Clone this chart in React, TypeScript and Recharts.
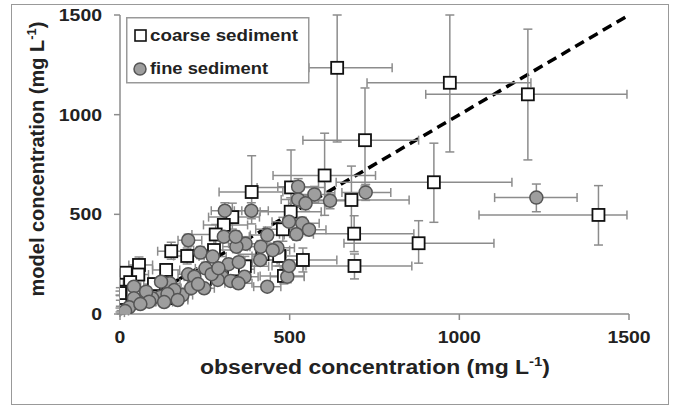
import {
  ScatterChart,
  Scatter,
  XAxis,
  YAxis,
  ErrorBar,
  ReferenceLine,
  Legend,
} from 'recharts';

// [x, y, x- , x+ , y- , y+]  (mg/L)
const coarsePoints = [
  [640, 1235, 83, 162, 372, 265],
  [972, 1160, 244, 239, 347, 340],
  [1202, 1102, 301, 292, 329, 327],
  [722, 872, 183, 158, 230, 262],
  [925, 661, 288, 230, 201, 196],
  [603, 695, 152, 150, 200, 212],
  [1410, 497, 352, 84, 151, 147],
  [682, 572, 130, 170, 170, 170],
  [690, 403, 190, 176, 90, 90],
  [880, 355, 220, 222, 100, 113],
  [691, 241, 150, 169, 65, 60],
  [388, 612, 96, 92, 160, 182],
  [504, 635, 100, 100, 180, 188],
  [539, 271, 110, 100, 60, 60],
  [503, 513, 90, 90, 70, 70],
  [480, 425, 80, 90, 60, 60],
  [331, 486, 70, 80, 60, 70],
  [306, 447, 60, 70, 50, 60],
  [282, 399, 70, 60, 60, 50],
  [277, 321, 60, 70, 40, 50],
  [336, 224, 60, 60, 40, 40],
  [368, 239, 60, 70, 40, 50],
  [469, 291, 80, 70, 50, 50],
  [483, 191, 70, 60, 40, 40],
  [151, 315, 40, 50, 40, 45],
  [198, 291, 40, 50, 40, 40],
  [136, 221, 40, 40, 30, 30],
  [56, 246, 30, 40, 40, 40],
  [17, 207, 17, 30, 30, 30],
  [54, 198, 30, 30, 30, 30],
  [100, 150, 30, 30, 30, 30],
  [250, 175, 50, 50, 30, 30],
  [420, 300, 70, 70, 50, 50],
  [160, 80, 40, 40, 20, 20],
  [30, 160, 20, 20, 20, 20],
  [1, 112, 1, 20, 20, 20],
  [1, 54, 1, 15, 15, 15],
  [3, 7, 3, 10, 7, 10],
  [0, 105, 0, 10, 10, 10],
  [0, 20, 0, 10, 10, 10],
];

const finePoints = [
  [1227, 584, 123, 120, 71, 68],
  [724, 610, 70, 74, 40, 40],
  [619, 568, 60, 70, 40, 40],
  [573, 600, 60, 60, 40, 40],
  [525, 639, 60, 60, 40, 40],
  [525, 575, 50, 60, 40, 40],
  [547, 555, 50, 60, 40, 40],
  [498, 463, 50, 50, 30, 30],
  [537, 455, 50, 50, 30, 30],
  [557, 423, 50, 50, 30, 30],
  [434, 396, 50, 50, 40, 40],
  [464, 332, 50, 50, 30, 30],
  [413, 271, 50, 50, 30, 30],
  [370, 353, 50, 50, 30, 30],
  [343, 338, 40, 40, 30, 30],
  [309, 518, 40, 50, 40, 40],
  [387, 518, 50, 50, 40, 40],
  [306, 388, 40, 40, 30, 30],
  [341, 388, 40, 40, 30, 30],
  [367, 187, 40, 40, 20, 20],
  [301, 187, 40, 40, 20, 20],
  [252, 229, 30, 40, 30, 30],
  [248, 129, 30, 30, 20, 20],
  [201, 199, 30, 30, 20, 20],
  [147, 154, 30, 30, 20, 20],
  [184, 95, 30, 30, 15, 15],
  [120, 87, 25, 25, 15, 15],
  [95, 79, 20, 20, 15, 15],
  [41, 137, 15, 20, 20, 20],
  [41, 79, 15, 15, 15, 15],
  [201, 370, 30, 40, 30, 30],
  [237, 308, 30, 40, 30, 30],
  [273, 288, 40, 40, 30, 30],
  [121, 162, 25, 25, 20, 20],
  [77, 112, 20, 20, 15, 15],
  [86, 62, 20, 20, 10, 10],
  [27, 34, 10, 10, 10, 10],
  [219, 187, 30, 30, 20, 20],
  [288, 171, 40, 40, 20, 20],
  [493, 187, 50, 50, 30, 30],
  [498, 241, 50, 50, 30, 30],
  [434, 137, 40, 40, 20, 20],
  [326, 166, 40, 40, 20, 20],
  [349, 154, 40, 40, 20, 20],
  [415, 338, 40, 40, 30, 30],
  [160, 120, 30, 30, 20, 20],
  [140, 100, 30, 30, 20, 20],
  [60, 50, 15, 15, 10, 10],
  [15, 15, 10, 10, 10, 10],
  [130, 60, 25, 25, 15, 15],
  [170, 70, 30, 30, 15, 15],
  [210, 130, 30, 30, 20, 20],
  [230, 150, 30, 30, 20, 20],
  [270, 200, 40, 40, 25, 25],
  [320, 250, 40, 40, 25, 25],
  [290, 230, 40, 40, 25, 25],
  [350, 260, 40, 40, 25, 25],
  [450, 320, 50, 50, 30, 30],
  [520, 400, 50, 50, 30, 30],
];

const axisTicks = [0, 500, 1000, 1500];

const FONT = 'Liberation Sans, Arial, sans-serif';
const GRID_GREY = '#8c8c8c';

const toRows = (pts: number[][]) =>
  pts.map(([x, y, xl, xh, yl, yh]) => ({ x, y, ex: [xl, xh], ey: [yl, yh] }));

const SquareDot = (props: any) => {
  const { cx, cy } = props;
  return <rect x={cx - 6} y={cy - 6} width={12} height={12} fill="#fff" stroke="#111" strokeWidth={1.8} />;
};

const CircleDot = (props: any) => {
  const { cx, cy } = props;
  return <circle cx={cx} cy={cy} r={6.5} fill="#9e9e9e" stroke="#555" strokeWidth={1.5} />;
};

const XTick = (props: any) => {
  const { x, y, payload } = props;
  const s = String(payload.value);
  return (
    <text x={x} y={y + 21} textAnchor="middle" fontSize={17} fontWeight="bold" fill="#222"
      fontFamily={FONT} textLength={s.length * 10.8} lengthAdjust="spacingAndGlyphs">
      {s}
    </text>
  );
};

const YTick = (props: any) => {
  const { x, y, payload } = props;
  const s = String(payload.value);
  return (
    <text x={x - 10} y={y + 6} textAnchor="end" fontSize={17} fontWeight="bold" fill="#222"
      fontFamily={FONT} textLength={s.length * 10.8} lengthAdjust="spacingAndGlyphs">
      {s}
    </text>
  );
};

const XTitle = () => (
  <text x={375} y={374} textAnchor="middle" fontSize={20} fontWeight="bold" fill="#222"
    fontFamily={FONT} textLength={350} lengthAdjust="spacingAndGlyphs">
    observed concentration (mg L<tspan dy={-8} fontSize={13}>-1</tspan><tspan dy={8}>)</tspan>
  </text>
);

const YTitle = () => (
  <text transform="rotate(-90)" x={-159} y={44} textAnchor="middle" fontSize={20} fontWeight="bold"
    fill="#222" fontFamily={FONT}>
    model concentration (mg L<tspan dy={-8} fontSize={13}>-1</tspan><tspan dy={8}>)</tspan>
  </text>
);

const LegendBox = () => (
  <svg width={184} height={67} style={{ display: 'block' }}>
    <rect x={0.75} y={0.75} width={182} height={65} fill="#fff" stroke="#999" strokeWidth={1.5} />
    <rect x={9} y={13} width={11} height={11} fill="#fff" stroke="#111" strokeWidth={1.6} />
    <text x={24} y={24} fontSize={16} fontWeight="bold" fill="#222" fontFamily={FONT}
      textLength={148} lengthAdjust="spacingAndGlyphs">coarse sediment</text>
    <circle cx={14} cy={52} r={6} fill="#9e9e9e" stroke="#555" strokeWidth={1.5} />
    <text x={24} y={57} fontSize={16} fontWeight="bold" fill="#222" fontFamily={FONT}
      textLength={118} lengthAdjust="spacingAndGlyphs">fine sediment</text>
  </svg>
);

export default function App() {
  const coarse = toRows(coarsePoints);
  const fine = toRows(finePoints);

  return (
    <div style={{ position: 'absolute', left: 0, top: 0, width: 674, height: 408, background: '#fff' }}>
      <div style={{ position: 'absolute', left: 11, top: 4, width: 656, height: 399, border: '1.5px solid #999' }} />
      <ScatterChart width={674} height={408} margin={{ top: 15, right: 45, bottom: 64, left: 60 }}>
        <XAxis type="number" dataKey="x" domain={[0, 1500]} ticks={axisTicks} height={30}
          axisLine={{ stroke: GRID_GREY, strokeWidth: 1.5 }} tickLine={{ stroke: GRID_GREY, strokeWidth: 1.5 }}
          tickSize={6} tick={<XTick />} label={XTitle} allowDataOverflow />
        <YAxis type="number" dataKey="y" domain={[0, 1500]} ticks={axisTicks} width={60}
          axisLine={{ stroke: GRID_GREY, strokeWidth: 1.5 }} tickLine={{ stroke: GRID_GREY, strokeWidth: 1.5 }}
          tickSize={6} tick={<YTick />} label={YTitle} allowDataOverflow />
        <Legend layout="vertical" align="center" verticalAlign="middle" content={LegendBox}
          wrapperStyle={{ left: 126, top: 17, width: 184, height: 67 }} />
        <ReferenceLine segment={[{ x: 0, y: 0 }, { x: 1500, y: 1500 }]} stroke="#000" strokeWidth={3.5}
          strokeDasharray="10 6" ifOverflow="visible" />
        <Scatter name="coarse sediment" data={coarse} shape={SquareDot} isAnimationActive={false}>
          <ErrorBar dataKey="ex" direction="x" width={4.5} stroke={GRID_GREY} strokeWidth={1.5} isAnimationActive={false} />
          <ErrorBar dataKey="ey" direction="y" width={4.5} stroke={GRID_GREY} strokeWidth={1.5} isAnimationActive={false} />
        </Scatter>
        <Scatter name="fine sediment" data={fine} shape={CircleDot} isAnimationActive={false}>
          <ErrorBar dataKey="ex" direction="x" width={4.5} stroke={GRID_GREY} strokeWidth={1.5} isAnimationActive={false} />
          <ErrorBar dataKey="ey" direction="y" width={4.5} stroke={GRID_GREY} strokeWidth={1.5} isAnimationActive={false} />
        </Scatter>
      </ScatterChart>
    </div>
  );
}
